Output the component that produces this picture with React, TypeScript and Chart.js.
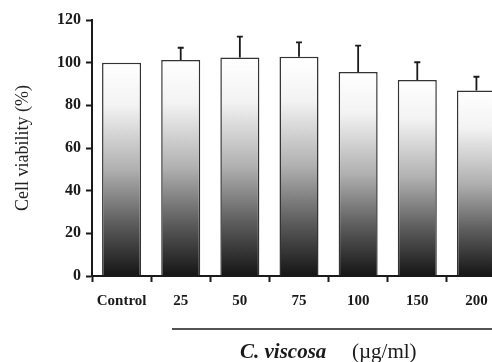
import React, { useEffect, useRef } from "react";
import { Chart, registerables } from "chart.js";

Chart.register(...registerables);

const categories = ["Control", "25", "50", "75", "100", "150", "200"];
const viability = [100, 101.3, 102.4, 102.8, 95.6, 91.9, 86.9];
const errorUpper = [0, 5.7, 9.8, 6.7, 12.4, 8.3, 6.5];
const yMin = 0;
const yMax = 120;
const yStep = 20;
const yTitle = "Cell viability (%)";
const xTitleItalic = "C. viscosa";
const xTitleUnit = "(µg/ml)";

const SERIF = "'Liberation Serif', 'Times New Roman', serif";
const INK = "#1a1a1a";

const errorBarPlugin = {
  id: "errorBars",
  afterDatasetsDraw(chart: any) {
    const ctx = chart.ctx;
    const ys = chart.scales.y;
    const meta = chart.getDatasetMeta(0);
    ctx.save();
    ctx.strokeStyle = INK;
    ctx.lineWidth = 1.8;
    meta.data.forEach((el: any, i: number) => {
      const e = errorUpper[i];
      if (!e) return;
      const top = ys.getPixelForValue(viability[i] + e);
      ctx.beginPath();
      ctx.moveTo(el.x, el.y);
      ctx.lineTo(el.x, top);
      ctx.moveTo(el.x - 3, top);
      ctx.lineTo(el.x + 3, top);
      ctx.stroke();
    });
    ctx.restore();
  },
};

const captionPlugin = {
  id: "caption",
  afterDraw(chart: any) {
    const ctx = chart.ctx;
    ctx.save();
    ctx.strokeStyle = INK;
    ctx.lineWidth = 1.5;
    ctx.beginPath();
    ctx.moveTo(172, 329);
    ctx.lineTo(chart.width, 329);
    ctx.stroke();
    ctx.fillStyle = INK;
    ctx.textBaseline = "alphabetic";
    ctx.textAlign = "left";
    ctx.font = `italic bold 21px ${SERIF}`;
    ctx.fillText(xTitleItalic, 240, 358);
    ctx.font = `21px ${SERIF}`;
    ctx.fillText(xTitleUnit, 352, 358);
    ctx.restore();
  },
};

export default function App() {
  const ref = useRef<HTMLCanvasElement>(null);

  useEffect(() => {
    if (!ref.current) return;
    const chart = new Chart(ref.current, {
      type: "bar",
      data: {
        labels: categories,
        datasets: [
          {
            data: viability,
            backgroundColor: (c: any) => {
              const ch = c.chart;
              const ys = ch.scales && ch.scales.y;
              if (!ch.chartArea || !ys) return "#888";
              const v = typeof c.raw === "number" ? c.raw : 100;
              const top = ys.getPixelForValue(v);
              const bottom = ys.getPixelForValue(0);
              const g = ch.ctx.createLinearGradient(0, top, 0, bottom);
              g.addColorStop(0, "#ffffff");
              g.addColorStop(0.2, "#f3f3f3");
              g.addColorStop(0.5, "#b0b0b0");
              g.addColorStop(0.75, "#5e5e5e");
              g.addColorStop(1, "#151515");
              return g;
            },
            borderColor: "#333333",
            borderWidth: 1.5,
            barPercentage: 0.66,
            categoryPercentage: 1,
          },
        ],
      },
      options: {
        responsive: false,
        animation: false,
        devicePixelRatio: 1,
        layout: { padding: { top: 20, right: 6, bottom: 0, left: 0 } },
        plugins: {
          legend: { display: false },
          tooltip: { enabled: false },
        },
        scales: {
          x: {
            grid: {
              offset: true,
              drawOnChartArea: false,
              drawTicks: true,
              tickLength: 6,
              tickWidth: 2,
              tickColor: INK,
            },
            border: { display: true, color: INK, width: 2 },
            ticks: {
              color: INK,
              padding: 10,
              font: { family: SERIF, size: 15, weight: "bold" },
              maxRotation: 0,
              autoSkip: false,
            },
            afterFit: (s: any) => {
              s.height = 86;
            },
          },
          y: {
            min: yMin,
            max: yMax,
            ticks: {
              stepSize: yStep,
              color: INK,
              padding: 5,
              font: { family: SERIF, size: 16, weight: "bold" },
            },
            grid: {
              drawOnChartArea: false,
              drawTicks: true,
              tickLength: 6,
              tickWidth: 2,
              tickColor: INK,
            },
            border: { display: true, color: INK, width: 2 },
            title: {
              display: true,
              text: yTitle,
              color: "#222",
              font: { family: SERIF, size: 18, weight: "normal" },
              padding: { top: 12, bottom: 0 },
            },
            afterFit: (s: any) => {
              s.width = 92;
            },
          },
        },
      },
      plugins: [errorBarPlugin, captionPlugin],
    });
    return () => chart.destroy();
  }, []);

  return (
    <div
      style={{
        position: "fixed",
        left: 0,
        top: 0,
        width: 492,
        height: 362,
        overflow: "hidden",
        background: "#fff",
      }}
    >
      <canvas ref={ref} width={512} height={362} style={{ display: "block" }} />
    </div>
  );
}
